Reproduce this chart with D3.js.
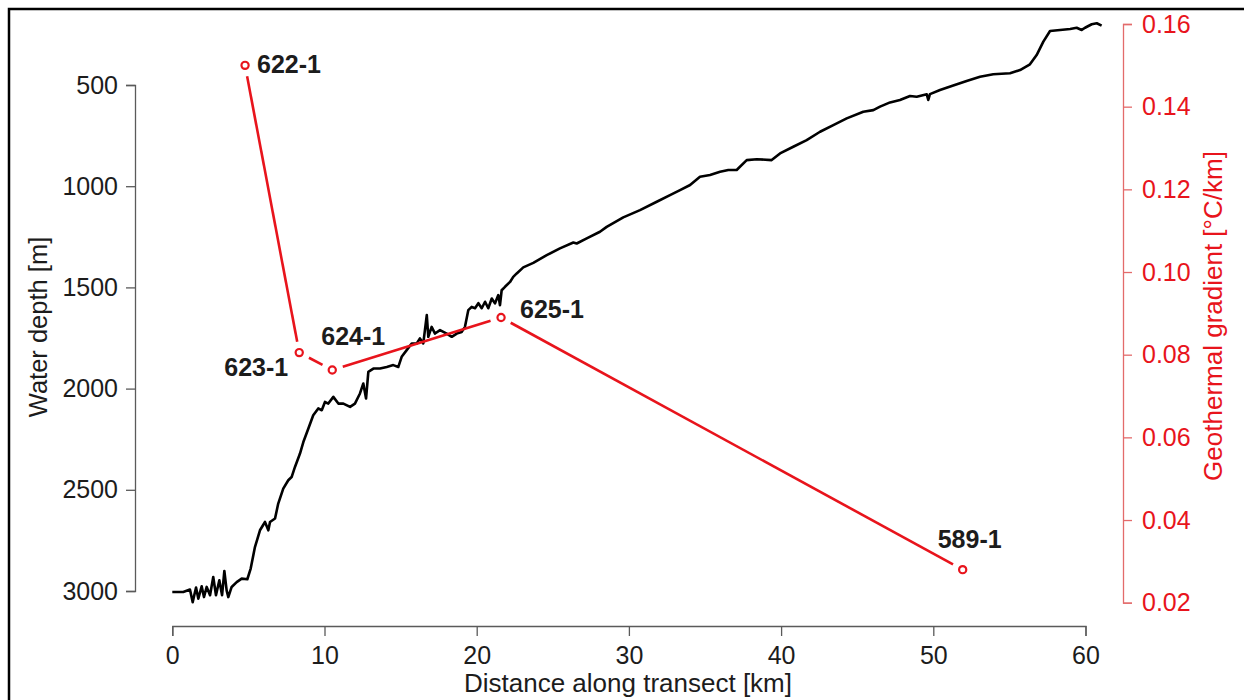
<!DOCTYPE html>
<html>
<head>
<meta charset="utf-8">
<script src="https://cdn.jsdelivr.net/npm/d3@7"></script>
<style>
  html, body { margin: 0; padding: 0; background: #fff; }
  svg { display: block; font-family: "Liberation Sans", Arial, Helvetica, sans-serif; }
</style>
</head>
<body>
<svg id="chart" width="1244" height="700"></svg>
<script>
// Bathymetric profile along the transect
const distanceKm = [
  0.00, 0.72, 1.16, 1.34, 1.56, 1.71, 1.93, 2.08, 2.26, 2.48, 2.69, 2.87, 3.09, 3.27, 3.42,
  3.57, 3.68, 3.90, 4.23, 4.56, 4.93, 5.15, 5.43, 5.76, 6.09, 6.31, 6.42, 6.75, 6.96, 7.29,
  7.62, 7.84, 8.06, 8.39, 8.61, 8.94, 9.26, 9.59, 9.82, 10.03, 10.25, 10.58, 10.91, 11.24, 11.68,
  12.00, 12.33, 12.55, 12.73, 12.88, 13.21, 13.65, 14.09, 14.52, 14.85, 15.07, 15.40, 15.73, 16.06, 16.27,
  16.49, 16.72, 16.82, 17.04, 17.26, 17.59, 18.03, 18.36, 18.69, 19.01, 19.23, 19.45, 19.67, 19.89, 20.11,
  20.33, 20.55, 20.76, 20.99, 21.20, 21.42, 21.53, 21.64, 21.86, 22.19, 22.40, 22.63, 23.06, 23.72, 24.60,
  25.47, 26.35, 26.57, 27.23, 28.10, 28.54, 29.63, 30.73, 31.83, 32.70, 33.36, 34.02, 34.67, 35.33, 35.99,
  36.53, 37.08, 37.74, 38.40, 39.38, 39.93, 40.80, 41.68, 42.56, 43.43, 44.31, 45.40, 46.06, 46.50, 47.16,
  47.81, 48.47, 48.91, 49.57, 49.67, 49.78, 50.44, 51.31, 52.19, 53.07, 53.94, 55.04, 55.70, 56.35, 56.79,
  57.23, 57.67, 58.33, 58.99, 59.42, 59.75, 59.97, 60.41, 60.74, 61.06
];
const depthM = [
  3005, 3005, 2993, 3055, 2983, 3038, 2977, 3030, 2980, 3021, 2931, 3021, 2947, 3021, 2901,
  2997, 3030, 2980, 2956, 2939, 2942, 2889, 2783, 2700, 2659, 2700, 2659, 2642, 2568, 2494,
  2453, 2437, 2387, 2321, 2264, 2197, 2132, 2098, 2107, 2066, 2074, 2041, 2074, 2074, 2090,
  2074, 2024, 1975, 2049, 1917, 1901, 1901, 1893, 1884, 1893, 1843, 1810, 1777, 1777, 1752,
  1777, 1637, 1744, 1695, 1728, 1711, 1728, 1744, 1728, 1720, 1695, 1612, 1596, 1603, 1578,
  1603, 1571, 1603, 1555, 1579, 1538, 1588, 1514, 1497, 1473, 1448, 1431, 1401, 1379, 1341,
  1307, 1278, 1283, 1258, 1225, 1201, 1154, 1118, 1077, 1044, 1019, 994, 953, 945, 929,
  920, 920, 871, 867, 871, 838, 805, 772, 731, 698, 665, 632, 624, 607, 586,
  574, 554, 558, 546, 574, 545, 525, 503, 480, 459, 447, 442, 426, 398, 352,
  286, 233, 228, 223, 217, 228, 217, 200, 195, 207
];

// Geothermal gradient at the stations
const stationNames = ["622-1", "623-1", "624-1", "625-1", "589-1"];
const stationKm = [4.78, 8.34, 10.51, 21.6, 51.93];
const gradientCPerKm = [0.150, 0.0805, 0.0763, 0.089, 0.028];

// Axis ticks
const distanceTicks = [0, 10, 20, 30, 40, 50, 60];
const depthTicks = [500, 1000, 1500, 2000, 2500, 3000];
const gradientTicks = [0.02, 0.04, 0.06, 0.08, 0.10, 0.12, 0.14, 0.16];

const RED = "#e8141c";
const RED_AXIS = "#e36b6b";
const AXIS_GREY = "#5a5a5a";
const TEXT = "#1c1c1c";

const svg = d3.select("#chart");

// Outer frame (extends beyond the page on the right and bottom)
svg.append("rect")
  .attr("x", 9).attr("y", 9).attr("width", 1260).attr("height", 720)
  .attr("fill", "none").attr("stroke", "#000").attr("stroke-width", 2.5);

const x = d3.scaleLinear().domain([0, 60]).range([172.3, 1085.5]);
const yDepth = d3.scaleLinear().domain([500, 3000]).range([85, 591]);
const yGrad = d3.scaleLinear().domain([0.02, 0.16]).range([602.7, 24]);

// Axes
const xAxis = d3.axisBottom(x).tickValues(distanceTicks).tickFormat(d3.format("d"))
  .tickSizeOuter(0).tickSize(10).tickPadding(10);
const gx = svg.append("g").attr("transform", "translate(0,626)").call(xAxis);

const yAxis = d3.axisLeft(yDepth).tickValues(depthTicks).tickFormat(d3.format("d"))
  .tickSizeOuter(0).tickSize(9).tickPadding(8);
const gy = svg.append("g").attr("transform", "translate(135,0)").call(yAxis);

const y2Axis = d3.axisRight(yGrad).tickValues(gradientTicks).tickFormat(d3.format(".2f"))
  .tickSizeOuter(0).tickSize(9).tickPadding(10);
const gy2 = svg.append("g").attr("transform", "translate(1123,0)").call(y2Axis);

[gx, gy].forEach(g => {
  g.select(".domain").attr("stroke", AXIS_GREY).attr("stroke-width", 1.3);
  g.selectAll(".tick line").attr("stroke", AXIS_GREY).attr("stroke-width", 1.3);
  g.selectAll(".tick text").attr("fill", TEXT).style("font-size", "25px")
    .style("font-family", "'Liberation Sans', Arial, sans-serif");
});
gy2.select(".domain").attr("stroke", RED_AXIS).attr("stroke-width", 1.3);
gy2.selectAll(".tick line").attr("stroke", RED_AXIS).attr("stroke-width", 1.3);
gy2.selectAll(".tick text").attr("fill", RED).style("font-size", "25px")
  .style("font-family", "'Liberation Sans', Arial, sans-serif");

// Axis titles
svg.append("text")
  .attr("x", 628).attr("y", 692)
  .attr("text-anchor", "middle").attr("fill", TEXT)
  .style("font-size", "26px")
  .text("Distance along transect [km]");

svg.append("text")
  .attr("transform", "translate(47,327) rotate(-90)")
  .attr("text-anchor", "middle").attr("fill", TEXT)
  .style("font-size", "25.5px")
  .text("Water depth [m]");

svg.append("text")
  .attr("transform", "translate(1222,316) rotate(-90)")
  .attr("text-anchor", "middle").attr("fill", RED)
  .style("font-size", "26px")
  .text("Geothermal gradient [°C/km]");

// Bathymetry line
const bathy = distanceKm.map((d, i) => [d, depthM[i]]);
svg.append("path")
  .datum(bathy)
  .attr("fill", "none")
  .attr("stroke", "#000")
  .attr("stroke-width", 2.6)
  .attr("stroke-linejoin", "round")
  .attr("d", d3.line().x(d => x(d[0])).y(d => yDepth(d[1])));

// Gradient series: segments stop short of the point markers
const stations = stationNames.map((name, i) => ({
  name, px: x(stationKm[i]), py: yGrad(gradientCPerKm[i])
}));
const gap = 11;
const segs = d3.pairs(stations).map(([a, b]) => {
  const dx = b.px - a.px, dy = b.py - a.py, len = Math.hypot(dx, dy);
  const ux = dx / len, uy = dy / len;
  return { x1: a.px + ux * gap, y1: a.py + uy * gap, x2: b.px - ux * gap, y2: b.py - uy * gap };
});
svg.append("g").selectAll("line").data(segs).join("line")
  .attr("x1", d => d.x1).attr("y1", d => d.y1)
  .attr("x2", d => d.x2).attr("y2", d => d.y2)
  .attr("stroke", RED).attr("stroke-width", 2.6);

svg.append("g").selectAll("circle").data(stations).join("circle")
  .attr("cx", d => d.px).attr("cy", d => d.py).attr("r", 3.6)
  .attr("fill", "#fff").attr("stroke", RED).attr("stroke-width", 2.2);

// Station labels
const labelPlacement = {
  "622-1": { dx: 12, dy: 8, anchor: "start" },
  "623-1": { dx: -11, dy: 23, anchor: "end" },
  "624-1": { dx: -11, dy: -25, anchor: "start" },
  "625-1": { dx: 19, dy: 1, anchor: "start" },
  "589-1": { dx: 7, dy: -22, anchor: "middle" }
};
svg.append("g").selectAll("text").data(stations).join("text")
  .attr("x", d => d.px + labelPlacement[d.name].dx)
  .attr("y", d => d.py + labelPlacement[d.name].dy)
  .attr("text-anchor", d => labelPlacement[d.name].anchor)
  .attr("fill", TEXT)
  .style("font-size", "25px").style("font-weight", "bold")
  .text(d => d.name);
</script>
</body>
</html>
